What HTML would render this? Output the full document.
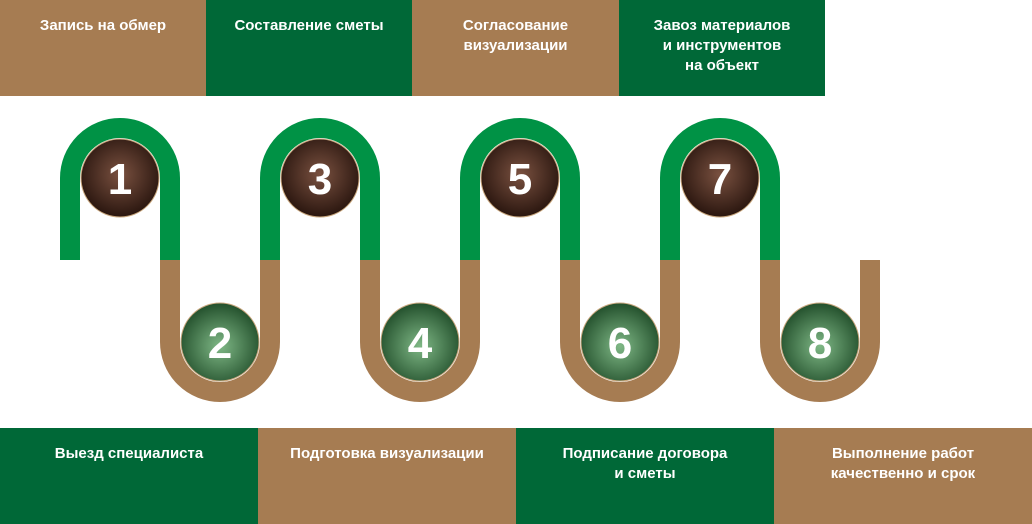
<!DOCTYPE html>
<html><head><meta charset="utf-8"><style>
body{margin:0;width:1032px;height:524px;position:relative;background:#fff;font-family:"Liberation Sans",sans-serif;overflow:hidden}
.b{position:absolute;color:#fff;font-weight:bold;font-size:15px;text-align:center;line-height:20px;box-sizing:border-box}
.br{background:#a67c52}.gr{background:#006837}
</style></head><body>
<div class="b br" style="left:0;top:0;width:206px;height:96px;padding-top:16px">Запись на обмер</div>
<div class="b gr" style="left:206px;top:0;width:206px;height:96px;padding-top:16px">Составление сметы</div>
<div class="b br" style="left:412px;top:0;width:207px;height:96px;padding-top:16px">Согласование<br>визуализации</div>
<div class="b gr" style="left:619px;top:0;width:206px;height:96px;padding-top:16px">Завоз материалов<br>и инструментов<br>на объект</div>
<div class="b gr" style="left:0;top:428px;width:258px;height:96px;padding-top:16px">Выезд специалиста</div>
<div class="b br" style="left:258px;top:428px;width:258px;height:96px;padding-top:16px">Подготовка визуализации</div>
<div class="b gr" style="left:516px;top:428px;width:258px;height:96px;padding-top:16px">Подписание договора<br>и сметы</div>
<div class="b br" style="left:774px;top:428px;width:258px;height:96px;padding-top:16px">Выполнение работ<br>качественно и срок</div>
<svg width="1032" height="524" style="position:absolute;left:0;top:0">
<defs>
<radialGradient id="dk" cx="50%" cy="45%" r="55%"><stop offset="0" stop-color="#7a5140"/><stop offset="1" stop-color="#2a160f"/></radialGradient>
<radialGradient id="lg" cx="50%" cy="55%" r="55%"><stop offset="0" stop-color="#7fb886"/><stop offset="1" stop-color="#23502c"/></radialGradient>
</defs>
<g fill="none" stroke-width="20">
<path d="M70 260V178A50 50 0 0 1 170 178V260M270 260V178A50 50 0 0 1 370 178V260M470 260V178A50 50 0 0 1 570 178V260M670 260V178A50 50 0 0 1 770 178V260" stroke="#009245"/>
<path d="M170 260V342A50 50 0 0 0 270 342V260M370 260V342A50 50 0 0 0 470 342V260M570 260V342A50 50 0 0 0 670 342V260M770 260V342A50 50 0 0 0 870 342V260" stroke="#a67c52"/>
</g>
<g stroke="#c9a77e" stroke-width="1">
<circle cx="120" cy="178" r="39" fill="url(#dk)"/><circle cx="320" cy="178" r="39" fill="url(#dk)"/><circle cx="520" cy="178" r="39" fill="url(#dk)"/><circle cx="720" cy="178" r="39" fill="url(#dk)"/>
<circle cx="220" cy="342" r="39" fill="url(#lg)"/><circle cx="420" cy="342" r="39" fill="url(#lg)"/><circle cx="620" cy="342" r="39" fill="url(#lg)"/><circle cx="820" cy="342" r="39" fill="url(#lg)"/>
</g>
<g fill="#fff" font-family="Liberation Sans,sans-serif" font-weight="bold" font-size="44" text-anchor="middle">
<text x="120" y="194">1</text><text x="320" y="194">3</text><text x="520" y="194">5</text><text x="720" y="194">7</text>
<text x="220" y="358">2</text><text x="420" y="358">4</text><text x="620" y="358">6</text><text x="820" y="358">8</text>
</g>
</svg>
</body></html>
